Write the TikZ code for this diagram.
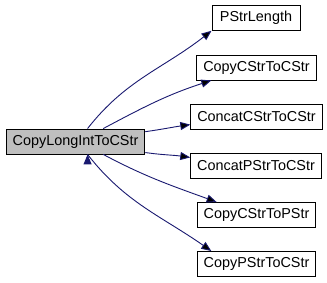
\documentclass[tikz,border=0pt]{standalone}
\usepackage{fontspec}
\setmainfont{Liberation Sans}
\usetikzlibrary{arrows.meta}

\definecolor{callblue}{HTML}{191970}

\begin{document}
\begin{tikzpicture}[x=1pt, y=1pt,
    fn/.style={draw=black, line width=0.9pt, minimum height=25pt, inner xsep=6.5pt,
      font=\fontsize{14.4}{16}\selectfont},
    call/.style={draw=callblue, line width=0.9pt, -{Triangle[length=10pt,width=8pt]}}]
  \useasboundingbox (0,0) rectangle (327,283);
  \node[fn, fill=black!25] (m) at (75.5,141.5) {CopyLongIntToCStr};
  \node[fn, minimum width=88pt] (len)   at (256,265)    {PStrLength};
  \node[fn] (cc2c)  at (256.5,215.5) {CopyCStrToCStr};
  \node[fn] (ccc2c) at (256.5,166.5) {ConcatCStrToCStr};
  \node[fn] (cpc2c) at (256,117.5)   {ConcatPStrToCStr};
  \node[fn] (cc2p)  at (256.5,68)    {CopyCStrToPStr};
  \node[fn] (cp2c)  at (256.5,19)    {CopyPStrToCStr};
  \path[call]
  (m.47)  edge [out=52, in=218]  (len.196)
  (m.25)  edge [out=28, in=198]  (cc2c.196)
  (m.8)   edge [out=8,  in=188]  (ccc2c.187)
  (m.-9)  edge [out=-8, in=172]  (cpc2c.173)
  (m.-25) edge [out=-28,in=160]  (cc2p.162)
  (m.-47) edge [out=-52,in=145]  (cp2c.164)
          ;
\end{tikzpicture}
\end{document}
